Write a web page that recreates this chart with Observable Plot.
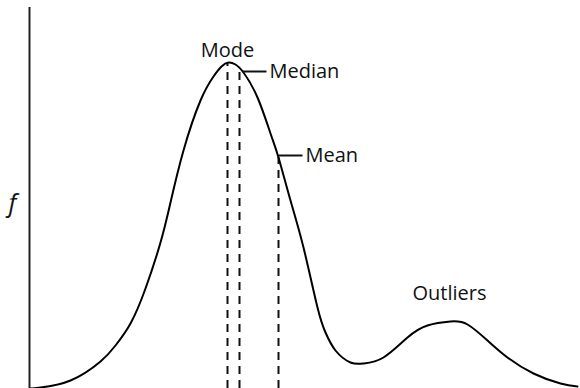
<!DOCTYPE html>
<html>
<head>
<meta charset="utf-8">
<script src="https://cdn.jsdelivr.net/npm/d3@7"></script>
<script src="https://cdn.jsdelivr.net/npm/@observablehq/plot@0.6"></script>
<style>
  html, body { margin: 0; padding: 0; background: #fff; }
  #chart svg { display: block; }
</style>
</head>
<body>
<div id="chart"></div>
<script>
// Density curve (x position, f value)
const curveX = [30, 40, 70, 100, 115, 130, 145, 160, 170, 183, 200, 213, 221, 228, 235, 243, 257, 270, 278, 290, 303, 317, 325, 335, 350, 363, 383, 407, 427, 450, 467, 487, 507, 533, 560, 577];
const curveF = [0, 1, 8, 27, 43, 65, 100, 146, 186, 238, 288, 312, 322, 326, 324, 316, 291, 255, 231, 188, 141, 81, 56, 38, 26, 25, 31, 51, 63, 67, 64, 48, 31, 15, 5, 2];

// Central tendency markers
const markerNames = ["Mode", "Median", "Mean"];
const markerX = [227, 239, 278];
const markerF = [326, 318, 231];

// Label callouts
const calloutNames = ["Median", "Mean"];
const calloutX1 = [242, 278];
const calloutX2 = [266, 302];
const calloutF = [317, 233];

const outlierLabel = "Outliers";
const outlierX = 449;
const outlierF = 95;

const axisLabel = "f";
const axisX = 29;
const axisTop = 381;

const curve = curveX.map((x, i) => ({x, f: curveF[i]}));
const markers = markerNames.map((name, i) => ({name, x: markerX[i], f: markerF[i]}));
const callouts = calloutNames.map((name, i) => ({name, x1: calloutX1[i], x2: calloutX2[i], f: calloutF[i]}));

const chart = Plot.plot({
  width: 580,
  height: 388,
  margin: 0,
  x: {domain: [0, 580], axis: null},
  y: {domain: [0, 388], axis: null},
  style: {fontFamily: "'Open Sans', sans-serif", fontSize: "20px", color: "#111", background: "#fff"},
  marks: [
    Plot.ruleX([axisX], {y1: 0, y2: axisTop, stroke: "#222", strokeWidth: 2}),
    Plot.text([axisLabel], {x: 12, y: 185, text: d => d, fontSize: 25, fontStyle: "italic", fill: "#111", textAnchor: "middle"}),
    Plot.ruleX(markers, {x: "x", y1: 0, y2: "f", stroke: "#111", strokeWidth: 2, strokeDasharray: "8,6"}),
    Plot.line(curve, {x: "x", y: "f", curve: "natural", stroke: "#000", strokeWidth: 2}),
    Plot.link(callouts, {x1: "x1", x2: "x2", y1: "f", y2: "f", stroke: "#111", strokeWidth: 2}),
    Plot.text(markers.filter(d => d.name === "Mode"), {x: "x", y: d => d.f + 6, text: "name", lineAnchor: "bottom", textAnchor: "middle", fill: "#111"}),
    Plot.text(callouts, {x: d => d.x2 + 3, y: "f", text: "name", textAnchor: "start", fill: "#111"}),
    Plot.text([outlierLabel], {x: outlierX, y: outlierF, text: d => d, textAnchor: "middle", fill: "#111"})
  ]
});
document.getElementById("chart").appendChild(chart);
</script>
</body>
</html>
